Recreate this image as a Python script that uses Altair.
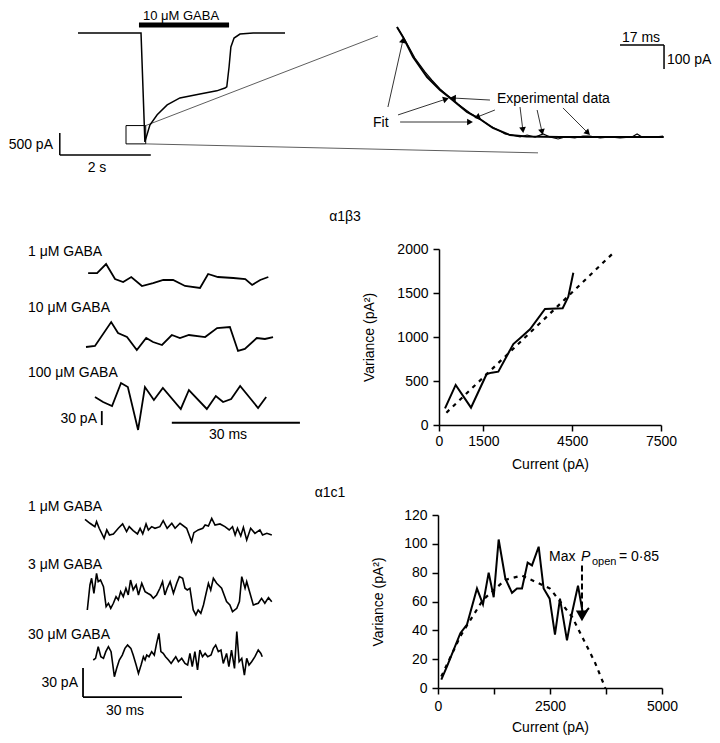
import altair as alt
import pandas as pd

W, H = 704, 727
M = 8  # page margin: reference pixel -> chart pixel
FONT = "Liberation Sans"

# ---------------- data ----------------
# whole-cell current (s, pA)
main_t = [0, 1.385, 1.47, 1.58, 1.74, 1.96, 2.24, 2.68, 3.05, 3.23, 3.27, 3.32, 3.36, 3.43, 3.56, 3.85, 4.55]
main_i = [0, 0, -2475, -2090, -1860, -1635, -1475, -1385, -1315, -1250, -1225, -772, -318, -114, -23, 0, 0]

# magnified decay (ms, pA amplitude)
fit_t = [0, 2.3, 6.2, 11.6, 16.6, 20.5, 27, 32, 37, 43.6, 50, 63, 76, 89, 103]
fit_a = [458, 417, 333, 250, 196, 163, 104, 75, 38, 8, 2, 0, 0, 0, 0]
exp_t = [0, 3.1, 6.9, 10.8, 13.5, 16.6, 19.7, 23.6, 28.2, 32.0, 35.9, 39.8, 41.7, 44.4, 47.5, 50.2,
         53.3, 56.4, 59.1, 62.2, 64.9, 68.7, 71.8, 74.5, 78.4, 82.2, 86.1, 90.7, 92.7, 94.6, 99.6, 102.7]
exp_a = [458, 404, 329, 271, 237, 200, 171, 137, 100, 75, 46, 25, 12.5, 8.3, 0, 8.3,
         0, 12.5, 0, -8.3, 0, -4.2, 4.2, 4.2, -4.2, 0, -4.2, 0, 12.5, 0, 0, 4.2]

# annotation arrows in the magnified panel (ms, pA)
arr_x1 = [-3.5, 0.4, 1.2, 35.9, 37.8, 47.5, 54.1, 64.1]
arr_y1 = [125, 92, 62.5, 154, 112.5, 125, 112.5, 121]
arr_x2 = [2.3, 18.9, 28.2, 21.6, 30.9, 48.6, 56.0, 73.7]
arr_y2 = [404, 158, 62.5, 162.5, 83, 29, 21, 17]
arr_ang = [12.6, 71.6, 90, 273, 249, 173, 168, 135]

# alpha1 beta3 noise traces (ms, pA)
b3_t1 = [0.5, 2.6, 4.7, 6.8, 8.7, 10.6, 13.1, 15.7, 18.1, 20.4, 23.2, 26.7, 28.6, 30.9, 34.5, 37.3, 38.9, 40.8, 42.7]
b3_i1 = [12.8, 12.8, 32, 0, -6.4, 4.3, -15, -8.6, -2.1, -2.1, -15, -19.3, 10.7, 4.3, 2.1, 0, -12.8, -2.1, 4.3]
b3_t2 = [0, 2.1, 5.9, 7.5, 9.6, 11.9, 14.1, 15.7, 17.8, 20.1, 22.0, 24.1, 27.9, 30.7, 33.7, 35.6, 37.2, 40.0, 41.9, 43.8]
b3_i2 = [-19.3, -17.1, 34.2, 10.7, 2.1, -25.7, 0, -8.6, -15, 6.4, 0, 6.4, 2.1, 21.4, 23.5, -27.8, -23.5, 0, -2.1, 2.1]
b3_t3 = [2.1, 4.0, 6.1, 8.2, 9.8, 12.2, 13.8, 15.9, 18.0, 22.2, 24.1, 28.3, 30.4, 32.1, 34.0, 36.1, 40.3, 42.2]
b3_i3 = [2.1, -8.6, -17.1, 32.1, 23.5, -68.5, 23.5, -4.3, 21.4, -23.5, 17.1, -23.5, 4.3, -8.6, -2.1, 25.7, -21.4, 2.1]

# alpha1 c1 noise traces (ms, pA)
c1_t1 = [0, 1.5, 3.0, 3.5, 4.3, 5.8, 6.6, 7.4, 8.6, 10.1, 11.4, 12.6, 13.4, 14.6, 15.9, 16.7, 17.5, 18.5, 19.2,
         20.2, 21.2, 22.7, 23.7, 24.9, 26.3, 27.3, 28.8, 30.8, 32.3, 33.0, 34.3, 35.7, 36.4, 37.4, 38.4, 39.4,
         40.9, 42.4, 43.7, 44.7, 45.5, 46.2, 47.2, 48.0, 49.0, 50.2, 51.5, 53.0, 53.8, 55.1, 56.6]
c1_i1 = [9.3, 5.2, 1.7, 6.9, 0, -10.3, -1.7, -6.9, -5.8, 0, 4.5, -3.4, 1.7, -2.4, -5.8, 0, -5.8, 4.5, -1.7,
         1.7, 0, 1.7, 7.9, 0, 5.2, 0, 5.2, 0, -13.7, -4.5, -1.7, 0, 3.4, 2.4, 10.3, 3.4,
         4.5, 1.7, -1.7, 1.7, -6.9, 0, -7.9, 1.0, -12.0, 0, -5.2, -1.7, -6.9, -5.2, -6.9]
c1_t2 = [0.7, 1.5, 2.0, 2.7, 3.5, 4.0, 4.7, 5.6, 6.4, 7.1, 7.8, 8.6, 9.4, 10.1, 10.8, 11.6, 12.4, 13.1, 13.8,
         14.6, 15.5, 16.2, 17.2, 18.2, 19.0, 19.9, 20.7, 21.7, 22.7, 23.5, 24.2, 24.9, 25.8, 26.8, 27.8, 28.6,
         29.6, 30.3, 31.0, 31.8, 32.8, 33.6, 34.3, 35.1, 35.9, 36.7, 37.4, 38.1, 38.9, 39.9, 41.4, 42.9, 43.9,
         44.7, 46.0, 46.8, 47.5, 48.5, 49.0, 50.0, 51.0, 52.5, 53.5, 54.5, 55.6, 56.6]
c1_i2 = [-17.2, 8.6, 15.5, 0, 20.6, 12.0, 13.7, 6.9, -13.7, -10.3, -15.5, -10.3, -3.4, -6.9, 1.7, -3.4, 5.2, -1.7, 13.7,
         3.4, 8.6, -1.7, 10.3, 1.7, 0, -1.7, -5.2, -1.7, 5.2, 12.0, -1.7, 5.2, 12.0, 0, 10.3, 17.2,
         15.5, 5.2, 3.4, 5.2, -17.2, -22.3, -17.2, -20.6, -12.0, 0, 10.3, 3.4, 15.5, 10.3, 5.2, -8.6, -12.0,
         -18.9, -15.5, -8.6, 17.2, 5.2, 12.0, 0, -12.0, -10.3, -5.2, -10.3, -4.5, -8.6]
c1_t3 = [2.5, 3.2, 4.0, 4.8, 5.6, 6.3, 7.1, 7.9, 8.9, 9.6, 10.4, 11.3, 12.1, 12.9, 13.9, 14.6, 15.5, 16.2, 17.0,
         17.7, 18.2, 18.7, 19.4, 20.2, 21.0, 21.7, 22.4, 23.0, 23.7, 24.4, 25.3, 26.1, 26.8, 27.5, 28.3, 29.3,
         30.3, 31.1, 31.8, 32.5, 33.3, 34.1, 34.8, 35.6, 36.4, 37.2, 38.2, 38.9, 39.6, 40.4, 41.2, 41.9, 42.9,
         43.6, 44.4, 45.3, 46.0, 46.7, 47.5, 48.3, 49.0, 49.7, 50.5, 51.5, 52.5, 53.3, 53.7]
c1_i3 = [-3.4, -1.7, 10.3, 0, -1.7, 5.2, 10.3, 5.2, -20.6, -12.0, -3.4, 1.7, 8.6, 12.0, 8.6, 1.7, -8.6, -17.2, -8.6,
         0, -3.4, 1.7, 0, 5.2, 1.7, 13.7, 24.1, 5.2, 3.4, 0, -3.4, -6.9, -3.4, 0, -5.2, -1.7,
         -6.9, -8.6, 3.4, -10.3, 5.2, -13.7, 6.9, 0, 3.4, 0, 1.7, 8.6, 12.0, 5.2, 6.9, -6.9, 3.4,
         -10.3, 6.9, -12.0, 25.8, -5.2, -1.7, -18.9, -1.7, -8.6, -5.2, 0, 6.9, 3.4, 0]

# variance vs current, alpha1 beta3 (pA, pA^2)
v1_cur = [203, 563, 1081, 1610, 1779, 2004, 2511, 2736, 3074, 3581, 4178, 4369, 4538]
v1_var = [189, 455, 197, 580, 595, 606, 920, 985, 1087, 1318, 1326, 1458, 1731]
v1_fit_cur = [250, 1500, 3000, 4500, 5850]
v1_fit_var = [140, 542, 1025, 1508, 1943]

# variance vs current, alpha1 c1
v2_cur = [74, 201, 499, 647, 870, 1004, 1131, 1243, 1354, 1503, 1652, 1763, 1875, 2001, 2098, 2247, 2358,
          2492, 2611, 2723, 2879, 2991, 3125, 3237, 3370]
v2_var = [5.8, 15, 38, 44, 69, 58, 80, 63, 103, 76, 66, 69, 69, 87, 85, 98, 69,
          62, 37, 62, 33, 52, 71, 51, 55.5]
v2_fit_cur = [74, 500, 1000, 1500, 1870, 2500, 3000, 3500, 3735]
v2_fit_var = [8, 36, 61, 75, 78, 69, 49, 18, 0]
popen_cur = 3214
popen_var = [85, 52]


# ---------------- helpers ----------------
def px(v):
    return v - M


def sc(d0, d1, r0, r1):
    return alt.Scale(domain=[d0, d1], range=[px(r0), px(r1)], nice=False, zero=False)


def line(xv, yv, sx, sy, xaxis=None, yaxis=None, **mk):
    df = pd.DataFrame({"x": xv, "y": yv})
    return alt.Chart(df).mark_line(color="black", **mk).encode(
        x=alt.X("x:Q", scale=sx, axis=xaxis),
        y=alt.Y("y:Q", scale=sy, axis=yaxis),
    )


def seg(x1, y1, x2, y2, sx, sy, **mk):
    df = pd.DataFrame({"x1": x1, "y1": y1, "x2": x2, "y2": y2})
    return alt.Chart(df).mark_rule(color="black", **mk).encode(
        x=alt.X("x1:Q", scale=sx, axis=None),
        y=alt.Y("y1:Q", scale=sy, axis=None),
        x2="x2:Q",
        y2="y2:Q",
    )


def heads(xv, yv, ang, sx, sy, size=45):
    df = pd.DataFrame({"x": xv, "y": yv, "a": ang})
    return alt.Chart(df).mark_point(shape="triangle-up", filled=True, color="black",
                                    size=size, opacity=1).encode(
        x=alt.X("x:Q", scale=sx, axis=None),
        y=alt.Y("y:Q", scale=sy, axis=None),
        angle=alt.Angle("a:Q", scale=None),
    )


def txt(s, x, y, size=14, align="left", style="normal"):
    return alt.Chart(pd.DataFrame({"k": [0]})).mark_text(
        text=s, font=FONT, fontSize=size, align=align, baseline="middle",
        fontStyle=style, color="black").encode(x=alt.value(px(x)), y=alt.value(px(y)))


# ---------------- scales (panel placement) ----------------
S_main_x = sc(0, 5, 78, 305.5)
S_main_y = sc(-3000, 0, 165, 33)
S_zoom_x = sc(0, 110, 397, 681.9)
S_zoom_y = sc(0, 500, 137, 17)
S_b3_x = sc(0, 50, 86, 299.5)
S_b3_y = [sc(-60, 60, c + 28, c - 28) for c in (279, 338, 398)]
S_c1_x = sc(0, 60, 85, 283)
S_c1_y = [sc(-30, 30, c + 29.1, c - 29.1) for c in (528.3, 593.3, 656.7)]
S_v1_x = sc(0, 7500, 439, 661)
S_v1_y = sc(0, 2000, 425, 249)
S_v2_x = sc(0, 5000, 438, 662)
S_v2_y = sc(0, 120, 688, 515)

layers = []

# ---- top-left: whole-cell current ----
layers.append(line(main_t, main_i, S_main_x, S_main_y, strokeWidth=1.5))
layers.append(seg([1.34], [182], [3.32], [182], S_main_x, S_main_y, strokeWidth=5))
layers.append(seg([-0.4, -0.4], [-2270, -2770], [-0.4, 1.6], [-2770, -2770], S_main_x, S_main_y, strokeWidth=1.5))
box = pd.DataFrame({"x1": [1.055], "x2": [1.488], "y1": [-2104], "y2": [-2520]})
layers.append(alt.Chart(box).mark_rect(fillOpacity=0, stroke="black", strokeWidth=1).encode(
    x=alt.X("x1:Q", scale=S_main_x, axis=None), x2="x2:Q",
    y=alt.Y("y1:Q", scale=S_main_y, axis=None), y2="y2:Q"))
layers.append(seg([1.488, 1.488], [-2104, -2520], [6.59, 10.11], [-68, -2724], S_main_x, S_main_y,
                  strokeWidth=0.8, opacity=0.8))
layers.append(txt("10 μM GABA", 181, 16, size=13, align="center"))
layers.append(txt("500 pA", 53, 145, align="right"))
layers.append(txt("2 s", 97, 168, align="center"))

# ---- top-right: magnified decay ----
layers.append(line(exp_t, exp_a, S_zoom_x, S_zoom_y, strokeWidth=1.2))
layers.append(line(fit_t, fit_a, S_zoom_x, S_zoom_y, strokeWidth=2))
layers.append(seg([86.1, 103.1], [383, 383], [103.1, 103.1], [383, 283], S_zoom_x, S_zoom_y, strokeWidth=1.5))
layers.append(seg(arr_x1, arr_y1, arr_x2, arr_y2, S_zoom_x, S_zoom_y, strokeWidth=0.8))
layers.append(heads(arr_x2, arr_y2, arr_ang, S_zoom_x, S_zoom_y))
layers.append(txt("17 ms", 641, 38, align="center"))
layers.append(txt("100 pA", 667, 60))
layers.append(txt("Fit", 373, 123))
layers.append(txt("Experimental data", 497, 99))

# ---- alpha1 beta3 ----
layers.append(txt("α1β3", 345, 217, align="center"))
for tt, ii, syy in zip((b3_t1, b3_t2, b3_t3), (b3_i1, b3_i2, b3_i3), S_b3_y):
    layers.append(line(tt, ii, S_b3_x, syy, strokeWidth=1.8))
layers.append(seg([3.7, 20.1], [-28, -53], [3.7, 50.1], [-58, -53], S_b3_x, S_b3_y[2], strokeWidth=1.8))
layers.append(txt("1 μM GABA", 28, 252))
layers.append(txt("10 μM GABA", 28, 308))
layers.append(txt("100 μM GABA", 28, 373))
layers.append(txt("30 pA", 97, 419, align="right"))
layers.append(txt("30 ms", 228, 435, align="center"))

axis_common = dict(labelFont=FONT, titleFont=FONT, labelFontSize=14, titleFontSize=14,
                   titleFontWeight="normal", labelColor="black", titleColor="black",
                   domainColor="black", tickColor="black", domainWidth=1.5, tickWidth=1.5,
                   tickSize=6, grid=False, labelOverlap=False, labelFlush=False, format="d")

v1_xaxis = alt.Axis(orient="bottom", offset=px(425) - H, values=[0, 1500, 4500, 7500],
                    title="Current (pA)", labelPadding=3, titlePadding=9, **axis_common)
v1_yaxis = alt.Axis(orient="left", offset=-px(439), values=[0, 500, 1000, 1500, 2000],
                    title="Variance (pA²)", labelPadding=5, titlePadding=20, **axis_common)
layers.append(line(v1_cur, v1_var, S_v1_x, S_v1_y, xaxis=v1_xaxis, yaxis=v1_yaxis, strokeWidth=2))
layers.append(line(v1_fit_cur, v1_fit_var, S_v1_x, S_v1_y, strokeWidth=2.2, strokeDash=[4, 5]))

# ---- alpha1 c1 ----
layers.append(txt("α1c1", 330, 493, align="center"))
for tt, ii, syy in zip((c1_t1, c1_t2, c1_t3), (c1_i1, c1_i2, c1_i3), S_c1_y):
    layers.append(line(tt, ii, S_c1_x, syy, strokeWidth=1.6))
layers.append(seg([-0.6, -0.6], [-11.6, -41.6], [-0.6, 29.4], [-41.6, -41.6], S_c1_x, S_c1_y[2], strokeWidth=1.8))
layers.append(txt("1 μM GABA", 28, 507))
layers.append(txt("3 μM GABA", 28, 565))
layers.append(txt("30 μM GABA", 28, 635))
layers.append(txt("30 pA", 78, 683, align="right"))
layers.append(txt("30 ms", 125, 711, align="center"))

v2_xaxis = alt.Axis(orient="bottom", offset=px(688) - H, values=[0, 1250, 2500, 3750, 5000],
                    labelExpr="datum.value % 2500 === 0 ? datum.label : ''",
                    title="Current (pA)", labelPadding=5, titlePadding=7, **axis_common)
v2_yaxis = alt.Axis(orient="left", offset=-px(438), values=[0, 20, 40, 60, 80, 100, 120],
                    title="Variance (pA²)", labelPadding=5, titlePadding=18, **axis_common)
layers.append(line(v2_cur, v2_var, S_v2_x, S_v2_y, xaxis=v2_xaxis, yaxis=v2_yaxis, strokeWidth=2))
layers.append(line(v2_fit_cur, v2_fit_var, S_v2_x, S_v2_y, strokeWidth=2.2, strokeDash=[4, 5]))
layers.append(seg([popen_cur], [popen_var[0]], [popen_cur], [popen_var[1]], S_v2_x, S_v2_y,
                  strokeWidth=2, strokeDash=[6, 3]))
layers.append(heads([popen_cur], [popen_var[1] - 2], [180], S_v2_x, S_v2_y, size=150))
layers.append(txt("Max", 549, 557))
layers.append(txt("P", 581, 557, style="italic"))
layers.append(txt("open", 592, 562, size=11))
layers.append(txt("= 0·85", 619, 557))

chart = alt.layer(*layers).resolve_scale(x="independent", y="independent").properties(
    width=W, height=H, autosize=alt.AutoSizeParams(type="none"), padding=0,
    background="white",
).configure_view(stroke=None)

chart.save("out.html", embed_options={"renderer": "svg", "actions": False})
